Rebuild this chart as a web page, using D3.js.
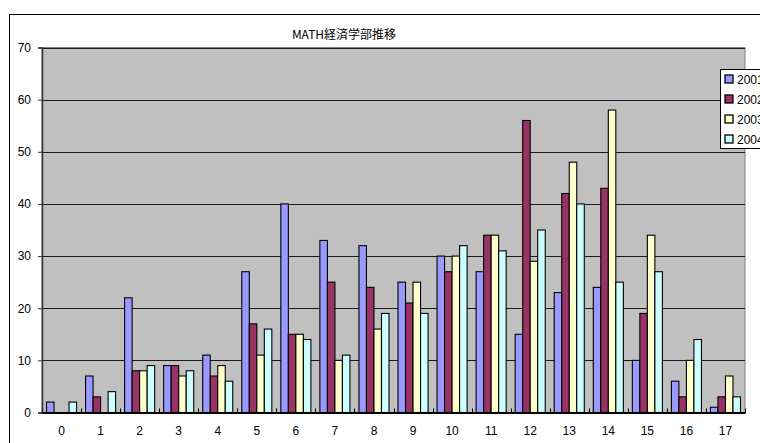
<!DOCTYPE html>
<html>
<head>
<meta charset="utf-8">
<script src="https://cdn.jsdelivr.net/npm/d3@7"></script>
<style>
  html, body { margin: 0; padding: 0; background: #fff; overflow: hidden; }
  svg { display: block; }
</style>
</head>
<body>
<svg id="chart" width="760" height="443"></svg>
<script>
// Chart data
const categories = ["0","1","2","3","4","5","6","7","8","9","10","11","12","13","14","15","16","17"];
const seriesNames = ["2001","2002","2003","2004"];
const values2001 = [2, 7, 22, 9, 11, 27, 40, 33, 32, 25, 30, 27, 15, 23, 24, 10, 6, 1];
const values2002 = [0, 3, 8, 9, 7, 17, 15, 25, 24, 21, 27, 34, 56, 42, 43, 19, 3, 3];
const values2003 = [0, 0, 8, 7, 9, 11, 15, 10, 16, 25, 30, 34, 29, 48, 58, 34, 10, 7];
const values2004 = [2, 4, 9, 8, 6, 16, 14, 11, 19, 19, 32, 31, 35, 40, 25, 27, 14, 3];
const yTicks = [0, 10, 20, 30, 40, 50, 60, 70];
const title = "MATH経済学部推移";
const colors = ["#9999ff", "#993366", "#ffffcc", "#ccffff"];

const allSeries = [values2001, values2002, values2003, values2004];

const svg = d3.select("#chart");
const plot = { left: 42, right: 745, top: 47.5, bottom: 412.5 };

// Outer chart frame
svg.append("rect")
  .attr("x", 9.5).attr("y", 14.5)
  .attr("width", 770).attr("height", 450)
  .attr("fill", "#fff").attr("stroke", "#000").attr("stroke-width", 1);

// Title
svg.append("text")
  .attr("x", 344).attr("y", 38.5)
  .attr("text-anchor", "middle")
  .attr("font-family", "'Noto Sans CJK JP', 'Liberation Sans', sans-serif")
  .attr("font-size", 12)
  .attr("fill", "#000")
  .text(title);

// Scales
const x0 = d3.scaleBand()
  .domain(categories)
  .range([plot.left, plot.right])
  .paddingInner(0.2304)
  .paddingOuter(0.1152);
const x1 = d3.scaleBand()
  .domain(seriesNames)
  .range([0, x0.bandwidth()]);
const y = d3.scaleLinear()
  .domain([0, 70])
  .range([plot.bottom, plot.top]);

// Plot area background
svg.append("rect")
  .attr("x", plot.left).attr("y", plot.top)
  .attr("width", plot.right - plot.left)
  .attr("height", plot.bottom - plot.top)
  .attr("fill", "#c0c0c0")
  .attr("stroke", "#808080").attr("stroke-width", 1);

// Horizontal gridlines
svg.append("g")
  .selectAll("line")
  .data(yTicks.filter(t => t > 0))
  .join("line")
  .attr("x1", plot.left).attr("x2", plot.right)
  .attr("y1", d => Math.round(y(d)) + 0.5)
  .attr("y2", d => Math.round(y(d)) + 0.5)
  .attr("stroke", "#1a1a1a").attr("stroke-width", 1);

// Y axis
const yAxis = svg.append("g")
  .attr("transform", `translate(${plot.left},0)`)
  .call(d3.axisLeft(y).tickValues(yTicks).tickSize(4).tickPadding(7).tickFormat(d3.format("d")));
yAxis.select(".domain").attr("stroke", "#333").attr("stroke-width", 1.5);
yAxis.selectAll(".tick line").attr("stroke", "#333");
yAxis.selectAll(".tick text")
  .attr("font-family", "'Liberation Sans', Arial, sans-serif")
  .attr("font-size", 12)
  .attr("fill", "#000");

// Bars
const groups = svg.append("g")
  .selectAll("g")
  .data(categories)
  .join("g")
  .attr("transform", d => `translate(${x0(d)},0)`);

groups.selectAll("rect")
  .data((c, i) => seriesNames.map((s, k) => ({ s, k, v: allSeries[k][i] })))
  .join("rect")
  .filter(d => d.v > 0)
  .attr("x", d => x1(d.s))
  .attr("y", d => y(d.v))
  .attr("width", x1.bandwidth())
  .attr("height", d => y(0) - y(d.v))
  .attr("fill", d => colors[d.k])
  .attr("stroke", "#000")
  .attr("stroke-width", 1.1);

// X axis
const xAxis = svg.append("g")
  .attr("transform", `translate(0,${plot.bottom})`)
  .call(d3.axisBottom(x0).tickSize(0).tickPadding(14));
xAxis.select(".domain").attr("stroke", "#000").attr("stroke-width", 2);
xAxis.selectAll(".tick text")
  .attr("font-family", "'Liberation Sans', Arial, sans-serif")
  .attr("font-size", 12)
  .attr("fill", "#000");

// Category separator ticks along the baseline
const step = x0.step();
svg.append("g")
  .selectAll("line")
  .data(d3.range(categories.length + 1))
  .join("line")
  .attr("x1", i => Math.round(plot.left + i * step) + 0.5)
  .attr("x2", i => Math.round(plot.left + i * step) + 0.5)
  .attr("y1", plot.bottom - 4)
  .attr("y2", plot.bottom)
  .attr("stroke", "#000").attr("stroke-width", 1);

// Legend
const legend = svg.append("g").attr("transform", "translate(720.5,69.5)");
legend.append("rect")
  .attr("x", 0).attr("y", 0)
  .attr("width", 80).attr("height", 79)
  .attr("fill", "#fff").attr("stroke", "#000").attr("stroke-width", 1);
const items = legend.selectAll("g.item")
  .data(seriesNames)
  .join("g")
  .attr("class", "item")
  .attr("transform", (d, i) => `translate(0,${9.5 + i * 20})`);
items.append("rect")
  .attr("x", 4.5).attr("y", -4)
  .attr("width", 8).attr("height", 8)
  .attr("fill", (d, i) => colors[i])
  .attr("stroke", "#000").attr("stroke-width", 1.3);
items.append("text")
  .attr("x", 16.5).attr("y", 4.5)
  .attr("font-family", "'Liberation Sans', Arial, sans-serif")
  .attr("font-size", 12)
  .attr("fill", "#000")
  .text(d => d);
</script>
</body>
</html>
